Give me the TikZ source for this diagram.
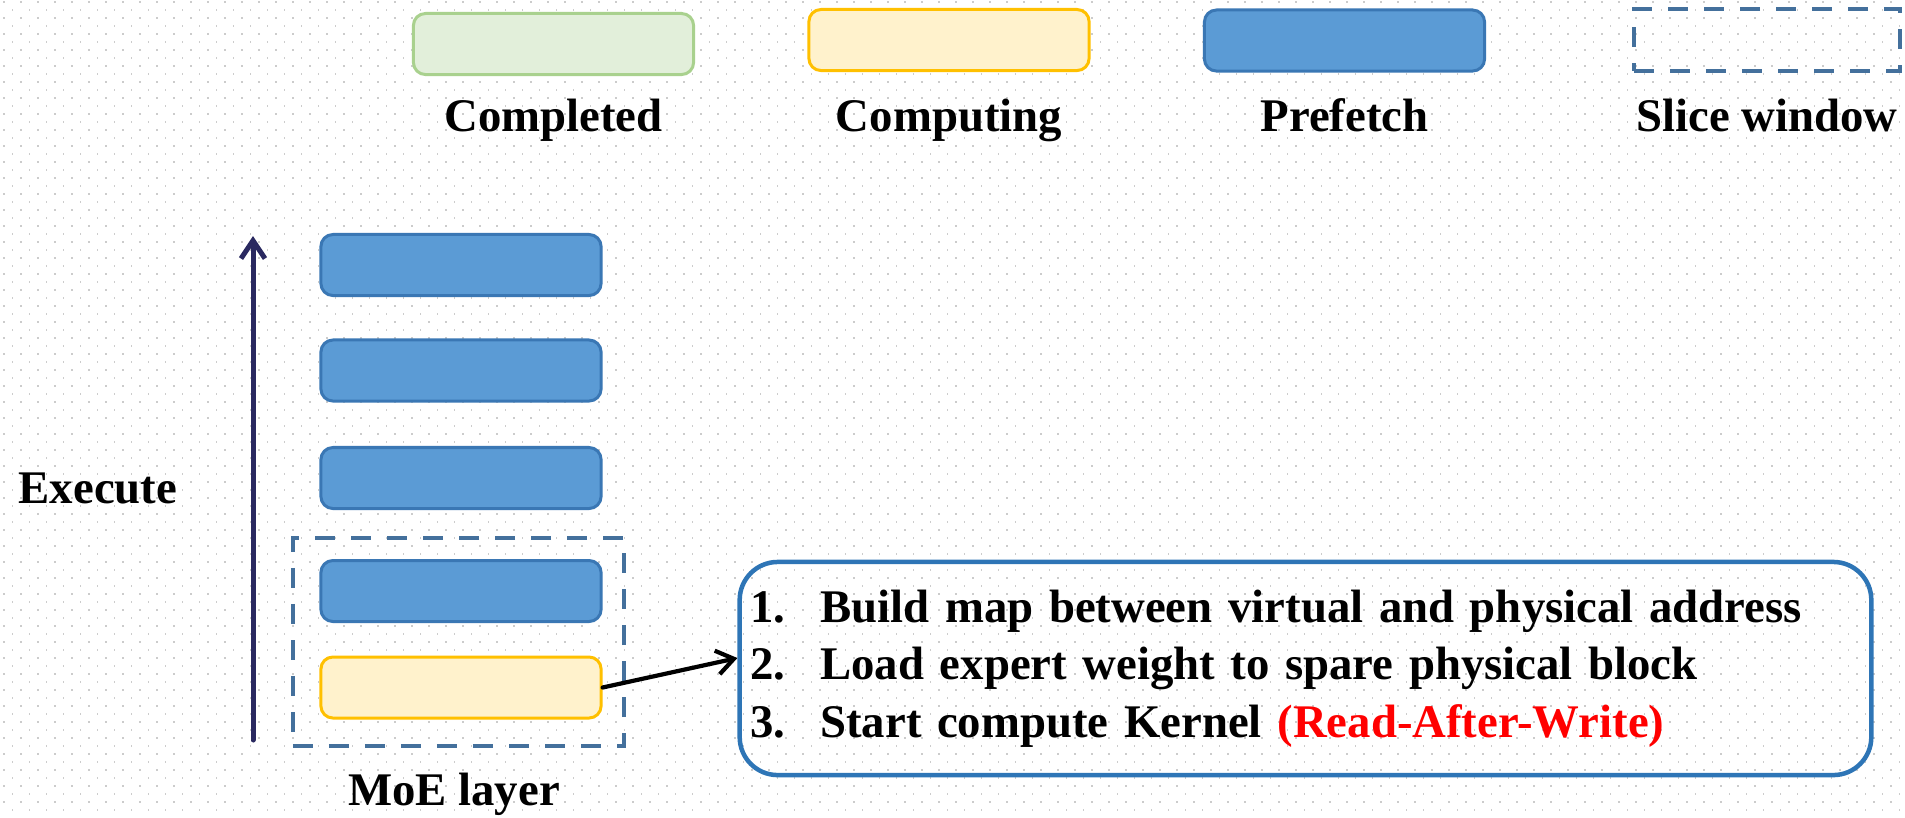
\documentclass[tikz,border=0pt]{standalone}
\usepackage{fontspec}
\setmainfont{Liberation Serif}
\usetikzlibrary{arrows.meta}
\definecolor{pfill}{HTML}{5B9BD5}
\definecolor{pline}{HTML}{3A77B4}
\definecolor{cfill}{HTML}{FFF2CC}
\definecolor{cline}{HTML}{FFC000}
\definecolor{dfill}{HTML}{E2EFDA}
\definecolor{dline}{HTML}{A9D18E}
\definecolor{winline}{HTML}{44709C}
\definecolor{navy}{HTML}{2A2960}
\definecolor{boxline}{HTML}{2E75B6}
\begin{document}
\begin{tikzpicture}[x=0.01cm,y=-0.01cm,
    every node/.style={font=\fontsize{13.3pt}{16.4pt}\selectfont\bfseries},
    block/.style={rounded corners=0.12cm,minimum width=2.8cm,minimum height=0.61cm,line width=0.03cm,inner sep=0pt},
    prefetch/.style={block,draw=pline,fill=pfill},
    computing/.style={block,draw=cline,fill=cfill},
    completed/.style={block,draw=dline,fill=dfill},
    slicewin/.style={draw=winline,line width=0.045cm,dash pattern=on 0.2cm off 0.16cm,inner sep=0pt},
    griddot/.style={black!20,line width=0.015cm,dash pattern=on 0.015cm off 0.145cm},
    flow/.style={line width=0.042cm,line cap=round,-{Straight Barb[length=0.17cm,width=0.24cm]}}]
    \fill[white] (0,0) rectangle (1905,817);
    \useasboundingbox (0,0) rectangle (1905,817);
    % dotted background
    \foreach \i in {0,...,111}{
        \draw[griddot] (4+17*\i,1) -- (4+17*\i,817);
        \draw[griddot] (12.5+17*\i,9) -- (12.5+17*\i,817);
    }
    % legend
    \node[completed] (lgdone) at (553.5,44) {};
    \node[computing] (lgcomp) at (949,40) {};
    \node[prefetch] (lgpf) at (1344.5,40.5) {};
    \node[slicewin,minimum width=2.66cm,minimum height=0.62cm] (lgwin) at (1767,40) {};
    \node[anchor=base] (lgdonetxt) at (553.5,131) {Completed};
    \node[anchor=base] (lgcomptxt) at (949,131) {Computing};
    \node[anchor=base] (lgpftxt) at (1344.5,131) {Prefetch};
    \node[anchor=base] (lgwintxt) at (1767,131) {Slice window};
    % layers
    \foreach \y [count=\k] in {265,370.5,478,591}
        \node[prefetch] (pf\k) at (461,\y) {};
    \node[computing] (cmp) at (461,687.5) {};
    \node[slicewin,minimum width=3.31cm,minimum height=2.08cm] (win) at (458.5,642) {};
    \node[anchor=base] (moe) at (454,805) {MoE layer};
    % execute direction
    \coordinate (exbot) at (253,740);
    \coordinate (extop) at (253,236);
    \draw[navy,line width=0.05cm,line cap=round,-{Straight Barb[length=0.18cm,width=0.24cm]}] (exbot) -- (extop);
    \node[anchor=base] (exec) at (98,503) {Execute};
    % steps
    \node[draw=boxline,line width=0.045cm,rounded corners=0.38cm,minimum width=11.31cm,minimum height=2.13cm,
        text width=11.1cm,inner xsep=0.09cm,align=left] (steps) at (1305.5,668.5)
        {\makebox[1.5em][l]{1.}Build map between virtual and physical address\\
         \makebox[1.5em][l]{2.}Load expert weight to spare physical block\\
         \makebox[1.5em][l]{3.}Start compute Kernel \textcolor{red}{(Read-After-Write)}};
    \draw[flow] (cmp.east) -- ([yshift=0.105cm]steps.west);
\end{tikzpicture}
\end{document}
